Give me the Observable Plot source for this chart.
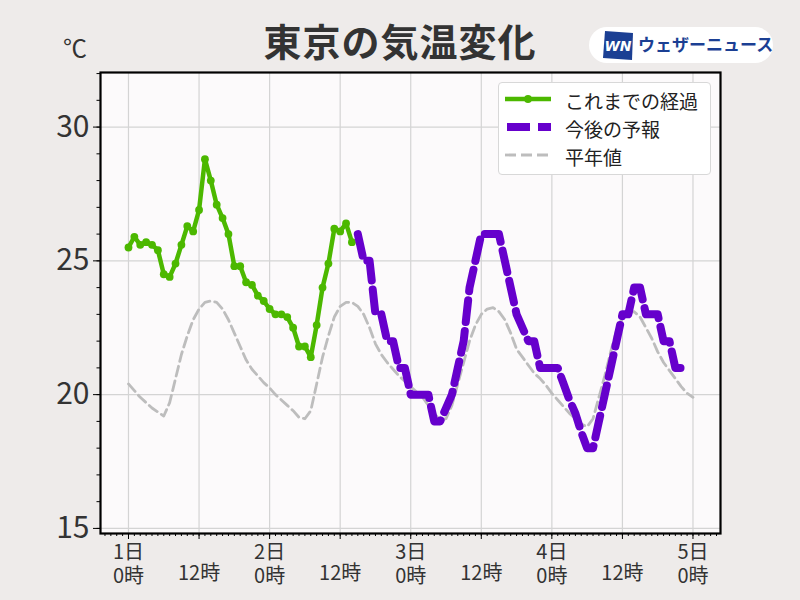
<!DOCTYPE html>
<html><head><meta charset="utf-8">
<script src="https://cdn.jsdelivr.net/npm/d3@7"></script>
<script src="https://cdn.jsdelivr.net/npm/@observablehq/plot@0.6"></script>
<style>
body{margin:0;background:#eeebea;font-family:'Noto Sans CJK JP','Noto Sans',sans-serif;}
#wrap{position:relative;width:800px;height:600px;overflow:hidden;background:#eeebea;}
#chart{position:absolute;left:0;top:0;}
.title{position:absolute;left:0;width:800px;top:21px;text-align:center;font-size:38px;font-weight:700;color:#333;line-height:1;letter-spacing:1px;}
.unit{position:absolute;left:63px;top:35px;font-size:24px;color:#333;line-height:1;}
.logo{position:absolute;left:589px;top:27px;width:184px;height:36px;background:#fff;border-radius:18px;}
.logo svg{position:absolute;left:13px;top:3px;}
.logo span{position:absolute;left:49px;top:8px;font-size:17px;font-weight:700;color:#1b3f93;line-height:1;white-space:nowrap;}
.legend{position:absolute;left:498px;top:82px;width:211px;height:91px;background:#fff;border:1px solid #d8d8d8;border-radius:4px;}
.legend .row{position:absolute;left:0;height:20px;}
.legend svg{position:absolute;left:6px;top:0;}
.legend span{position:absolute;left:66px;top:-2px;font-size:19px;color:#222;line-height:1.2;white-space:nowrap;}
</style>
</head><body>
<div id="wrap">
  <div id="chart"></div>
  <div class="title">東京の気温変化</div>
  <div class="unit">℃</div>
  <div class="logo">
    <svg width="34" height="31" viewBox="0 0 34 31"><polygon points="3,1 31,3 30,30 1,28" fill="#1b3f93"/><text x="16" y="21" text-anchor="middle" font-size="14" font-weight="700" font-style="italic" fill="#fff" font-family="DejaVu Sans">WN</text></svg>
    <span>ウェザーニュース</span>
  </div>
  <div class="legend" id="legend"></div>
</div>
<script>
// 観測値（1日0時から毎時）
const obsStartHour = 0;
const obsTemps = [25.5, 25.9, 25.6, 25.7, 25.6, 25.4, 24.5, 24.4, 24.9, 25.6, 26.3, 26.1, 26.9, 28.8, 28.0, 27.1, 26.6, 26.0, 24.8, 24.8, 24.2, 24.1, 23.7, 23.5, 23.2, 23.0, 23.0, 22.9, 22.5, 21.8, 21.8, 21.4, 22.6, 24.0, 24.9, 26.2, 26.1, 26.4, 25.7];
// 予報（2日15時から毎時）
const fcStartHour = 39;
const fcTemps = [26, 25, 25, 23, 23, 22, 22, 21, 21, 20, 20, 20, 20, 19, 19, 19.5, 20, 21, 22, 24, 25, 26, 26, 26, 26, 25, 24, 23, 22.5, 22, 22, 21, 21, 21, 21, 20.4, 19.8, 19.3, 18.6, 18, 18, 19, 20, 21, 22, 23, 23, 24, 24, 23, 23, 23, 22, 22, 21, 21, 21];
// 平年値（1日0時から毎時）
const normStartHour = 0;
const normTemps = [20.4, 20.15, 19.9, 19.7, 19.5, 19.35, 19.2, 19.7, 20.6, 21.5, 22.2, 22.8, 23.2, 23.45, 23.5, 23.45, 23.2, 22.8, 22.3, 21.8, 21.3, 20.95, 20.7, 20.45,
  20.25, 20.0, 19.8, 19.6, 19.4, 19.15, 19.1, 19.4, 20.4, 21.4, 22.2, 22.9, 23.3, 23.45, 23.45, 23.3, 23.0, 22.5, 21.9, 21.5, 21.2, 20.95, 20.7, 20.5,
  20.3, 20.1, 19.9, 19.6, 19.3, 19.05, 19.1, 19.6, 20.4, 21.2, 22.0, 22.6, 23.0, 23.2, 23.25, 23.1, 22.8, 22.3, 21.7, 21.4, 21.1, 20.8, 20.6, 20.35,
  20.05, 19.8, 19.55, 19.3, 19.1, 18.9, 18.8, 19.1, 19.9, 20.7, 21.6, 22.4, 22.9, 23.05, 23.1, 22.9, 22.5, 22.1, 21.6, 21.2, 20.9, 20.6, 20.3, 20.05, 19.9];

const dayTicks = [0, 24, 48, 72, 96];
const dayLabels = ["1日\n0時", "2日\n0時", "3日\n0時", "4日\n0時", "5日\n0時"];
const noonTicks = [12, 36, 60, 84];
const noonLabels = ["12時", "12時", "12時", "12時"];
const hourTicks = [0, 12, 24, 36, 48, 60, 72, 84, 96];
const yTicks = [15, 20, 25, 30];
const seriesNames = ["これまでの経過", "今後の予報", "平年値"];

const GREEN = "#4cb800", PURPLE = "#6600cc", GRAY = "#bdbdbd";

const obs = obsTemps.map((t, i) => ({h: obsStartHour + i, t}));
const fc = fcTemps.map((t, i) => ({h: fcStartHour + i, t}));
const norm = normTemps.map((t, i) => ({h: normStartHour + i, t}));
const minorX = d3.range(-4, 101);
const minorY = d3.range(15, 33);

const chart = Plot.plot({
  width: 800, height: 600,
  marginLeft: 100, marginRight: 80, marginTop: 72, marginBottom: 67,
  style: {background: "transparent", fontFamily: "'Noto Sans CJK JP','Noto Sans',sans-serif", color: "#333", overflow: "visible"},
  x: {domain: [-4.76, 100.68]},
  y: {domain: [14.81, 32.04]},
  marks: [
    Plot.frame({fill: "#fcfafb", stroke: null}),
    Plot.gridX({ticks: hourTicks, stroke: "#d4d4d4", strokeOpacity: 1, strokeWidth: 1.2}),
    Plot.gridY({ticks: yTicks, stroke: "#d4d4d4", strokeOpacity: 1, strokeWidth: 1.2}),
    Plot.line(norm, {x: "h", y: "t", stroke: GRAY, strokeWidth: 2.8, strokeDasharray: "10,5"}),
    Plot.line(obs, {x: "h", y: "t", stroke: GREEN, strokeWidth: 4.5}),
    Plot.dot(obs, {x: "h", y: "t", r: 3.9, fill: GREEN}),
    Plot.line(fc, {x: "h", y: "t", stroke: PURPLE, strokeWidth: 8, strokeDasharray: "22,9", strokeLinejoin: "round"}),
    Plot.frame({stroke: "black", strokeWidth: 2.2}),
    Plot.axisY({ticks: minorY, tickSize: 3.5, tickFormat: () => "", label: null, stroke: "black"}),
    Plot.axisY({ticks: yTicks, tickSize: 7, tickPadding: 4, fontSize: 30, label: null, stroke: "black", fill: "#333"}),
    Plot.axisX({ticks: minorX, tickSize: 3, tickFormat: () => "", label: null, stroke: "black"}),
    Plot.axisX({ticks: hourTicks, tickSize: 6, tickFormat: () => "", label: null, stroke: "black"}),
    Plot.axisX({ticks: dayTicks, tickSize: 0, tickPadding: 9, fontSize: 20, lineHeight: 1.17, label: null, fill: "#333",
      tickFormat: d => dayLabels[dayTicks.indexOf(d)]}),
    Plot.axisX({ticks: noonTicks, tickSize: 0, tickPadding: 32, fontSize: 20, label: null, fill: "#333",
      tickFormat: d => noonLabels[noonTicks.indexOf(d)]})
  ]
});
document.getElementById("chart").appendChild(chart);

// 凡例
const swatches = [
  `<svg width="46" height="14"><line x1="0" y1="7" x2="46" y2="7" stroke="${GREEN}" stroke-width="4.5"/><circle cx="23" cy="7" r="3.9" fill="${GREEN}"/></svg>`,
  `<svg width="46" height="14"><line x1="2" y1="7" x2="46" y2="7" stroke="${PURPLE}" stroke-width="8" stroke-dasharray="23,8"/></svg>`,
  `<svg width="46" height="14"><line x1="0" y1="7" x2="46" y2="7" stroke="${GRAY}" stroke-width="2.8" stroke-dasharray="11,5"/></svg>`
];
const rowTops = [9, 37, 65];
document.getElementById("legend").innerHTML = seriesNames.map((n, i) =>
  `<div class="row" style="top:${rowTops[i]}px">${swatches[i]}<span>${n}</span></div>`).join("");
</script>
</body></html>
